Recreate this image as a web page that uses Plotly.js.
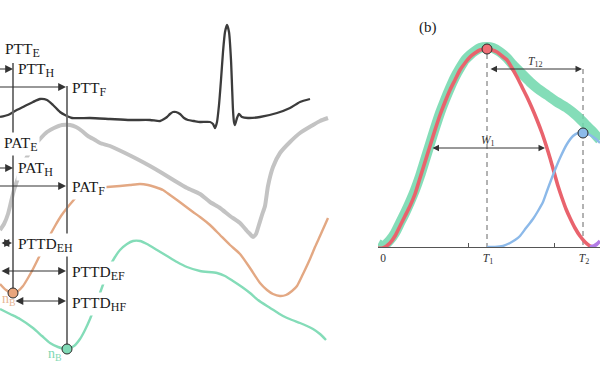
<!DOCTYPE html>
<html>
<head>
<meta charset="utf-8">
<script src="https://cdn.plot.ly/plotly-3.0.1.min.js"></script>
<style>html,body{margin:0;padding:0;background:#fff;}#chart{width:600px;height:372px;}</style>
</head>
<body>
<div id="chart"></div>
<script>
// ---------- Panel (a): waveforms (x, y in figure units) ----------
const ecgX = [0,8,15,23,33,40,47,53,60,65,72,90,110,130,150,160,164,167,170,173,176,180,184,188,194,200,210,213,215,217,219,221,223,225,227,229,231,232,233,234,235,237,239,242,248,260,277,290,300,310];
const ecgY = [117,115,111,107,102,99,100,105,112,115,118,118,119,120,120,121,119,117,114,112,112,114,118,120,121,122,122,124,128,122,105,80,52,32,25,32,60,85,110,122,125,118,114,117,118,117,113,108,102,99];

const grayX = [0,4,8,11,14,18,23,28,34,40,47,54,62,70,76,82,88,95,100,110,123,137,150,162,175,187,200,210,220,230,240,247,250,253,256,258,262,265,268,273,280,290,300,313,320,328];
const grayY = [230,224,214,202,190,178,165,155,146,139,132,128,125,125,127,131,136,140,143,146,152,159,166,173,181,188,194,202,208,216,223,231,234,237,234,228,215,206,186,167,153,142,133,125,121,118];

const orangeX = [0,6,13,18,23,28,33,38,43,49,55,61,67,72,78,85,95,107,120,130,140,148,155,163,170,177,185,193,200,210,220,230,240,250,260,267,273,280,286,292,297,303,310,315,320,324,328];
const orangeY = [284,290,293,291,286,278,269,259,249,237,226,216,208,202,195,191,188,187,186,185,184,185,187,190,195,200,206,212,217,225,235,245,254,268,283,290,294,296,295,291,286,274,259,247,236,227,218];

const greenX = [0,10,20,33,42,50,58,67,74,80,85,90,95,100,105,110,115,120,127,133,140,147,157,167,177,187,200,217,225,233,242,250,258,267,275,283,292,300,307,313,320,326];
const greenY = [309,314,319,328,336,343,347,349,346,339,330,319,306,293,279,266,257,250,244,241,241,244,250,256,262,267,271,273,276,281,287,293,300,306,311,316,320,323,326,329,334,340];

// marker points (n_B etc.)
const dotX = [-1, 13, 67];
const dotY = [230, 293, 349];
const dotFill = ['#ececec', '#e9a57c', '#7fd9b5'];

// vertical reference lines in (a)
const vX = [13, 67];
const vTop = [63, 86];
const vBot = [293, 349];

// arrows in (a)
const arrY  = [69, 87, 168, 186, 243, 271, 301];
const arrX0 = [-20, -20, -20, -20, 0, 0, 14];
const arrX1 = [13, 66, 13, 66, 12, 66, 66];
const arrSide = ['end','end','end','end','end+start','end+start','end+start'];

// labels in (a)
const labMain = ['PTT','PTT','PTT','PAT','PAT','PAT','PTTD','PTTD','PTTD'];
const labSub  = ['E','H','F','E','H','F','EH','EF','HF'];
const labX = [3, 16, 70, 2, 16, 70, 16, 70, 70];
const labY = [48, 68, 87, 142, 167, 186, 243, 271, 302];

// ---------- Panel (b): decomposition ----------
const bandX = [378,383,390,395,400,405,410,415,420,425,430,435,440,445,450,455,460,465,470,475,480,487,493,500,507,513,520,530,537,547,557,567,577,585,592,600];
const bandY = [244,246,240,233,223,213,202,190,176,160,144,128,113,100,88,77,68,60,55,51,48,47,48,52,58,65,72,82,88,95,102,108,116,124,131,140];

const redX = [378,383,390,395,400,405,410,415,420,425,430,435,440,445,450,455,460,465,470,475,480,487,492,497,502,507,512,517,522,527,532,537,542,546,550,554,558,562,566,570,575,580,585,590,593];
const redY = [248,248,243,236,226,216,206,194,178,162,146,130,115,102,90,80,70,63,57,53,50,49,50,52,56,60,68,77,87,97,108,120,133,145,158,172,186,198,209,218,228,236,242,246,247];

const blueX = [487,495,503,510,515,520,526,533,538,543,547,553,560,567,573,578,583,590,596,600];
const blueY = [247,247,246,243,240,236,228,219,211,202,191,175,158,144,136,133,133,135,139,143];

const purpleX = [590,594,597,600];
const purpleY = [247,246,244,241];

const peakX = [487, 583];
const peakY = [49, 133];
const peakFill = ['#ee6e75', '#8dbbea'];

const dashX = [487, 583];
const dashTop = [54, 69];

const tickVals = [383, 488, 584];
const tickText = ['0', '<i>T</i><sub>1</sub>', '<i>T</i><sub>2</sub>'];
const minorVals = [468, 554];

const bArrY = [69, 148];
const bArrX0 = [489, 431];
const bArrX1 = [582, 545];
const bLabText = ['<i>T</i><sub>12</sub>', '<i>W</i><sub>1</sub>'];
const bLabX = [535, 488];
const bLabY = [62, 141];

// ---------- build ----------
const serif = 'Liberation Serif, DejaVu Serif, serif';
const traces = [];
function line(x, y, color, width, ax, extra) {
  traces.push(Object.assign({type:'scatter', mode:'lines', x:x, y:y, xaxis: ax==='b'?'x2':'x', yaxis: ax==='b'?'y2':'y',
    line:{color:color, width:width, shape:'spline', smoothing:0.6}, hoverinfo:'skip'}, extra||{}));
}
line(greenX, greenY, '#84dcb8', 2.4, 'a');
line(orangeX, orangeY, '#e3a883', 2.4, 'a');
line(grayX, grayY, '#c3c3c3', 4, 'a');
line(ecgX, ecgY, '#3c3c3c', 2.3, 'a');
for (let i = 0; i < vX.length; i++) {
  traces.push({type:'scatter', mode:'lines', x:[vX[i], vX[i]], y:[vTop[i], vBot[i]], line:{color:'#6a6a6a', width:1.8}, hoverinfo:'skip'});
}
traces.push({type:'scatter', mode:'markers', x:dotX, y:dotY, cliponaxis:false,
  marker:{size:10, color:dotFill, line:{color:'#2a2a2a', width:1}}, hoverinfo:'skip'});

// panel b
for (let i = 0; i < dashX.length; i++) {
  traces.push({type:'scatter', mode:'lines', x:[dashX[i], dashX[i]], y:[dashTop[i], 247], xaxis:'x2', yaxis:'y2',
    line:{color:'#666', width:1, dash:'5px,4px'}, hoverinfo:'skip'});
}
line(bandX, bandY, 'rgba(110,215,172,0.85)', 10, 'b');
line(redX, redY, '#e9636d', 3.6, 'b');
line(blueX, blueY, '#8cb9e9', 2.4, 'b');
line(purpleX, purpleY, '#b27be6', 3.6, 'b');
traces.push({type:'scatter', mode:'markers', x:peakX, y:peakY, xaxis:'x2', yaxis:'y2', cliponaxis:false,
  marker:{size:10, color:peakFill, line:{color:'#2a2a2a', width:1}}, hoverinfo:'skip'});

const ann = [];
for (let i = 0; i < arrY.length; i++) {
  ann.push({x:arrX1[i], y:arrY[i], ax:arrX0[i], ay:arrY[i], xref:'x', yref:'y', axref:'x', ayref:'y',
    text:'', showarrow:true, arrowhead:2, startarrowhead:2, arrowside:arrSide[i], arrowsize:1.3, startarrowsize:1.3,
    arrowwidth:1.2, arrowcolor:'#333'});
}
for (let i = 0; i < labMain.length; i++) {
  ann.push({x:labX[i], y:labY[i] + 2, xref:'x', yref:'y',
    text:labMain[i] + '<sub><span style="font-size:12px">' + labSub[i] + '</span></sub>',
    showarrow:false, xanchor:'left', yanchor:'middle',
    bgcolor:'#ffffff', borderpad:1, font:{family:serif, size:15.5, color:'#1a1a1a'}});
}
ann.push({x:0, y:299, xref:'x', yref:'y', text:'n<sub>B</sub>', showarrow:false, xanchor:'left', yanchor:'middle',
  font:{family:serif, size:14, color:'#e6b595'}});
ann.push({x:55, y:354, xref:'x', yref:'y', text:'n<sub>B</sub>', showarrow:false, xanchor:'center', yanchor:'middle',
  font:{family:serif, size:14, color:'#7fd8b4'}});
ann.push({x:428, y:27, xref:'x', yref:'y', text:'(b)', showarrow:false, xanchor:'center', yanchor:'middle',
  font:{family:serif, size:15, color:'#1a1a1a'}});
for (let i = 0; i < bArrY.length; i++) {
  ann.push({x:bArrX1[i], y:bArrY[i], ax:bArrX0[i], ay:bArrY[i], xref:'x2', yref:'y2', axref:'x2', ayref:'y2',
    text:'', showarrow:true, arrowhead:2, startarrowhead:2, arrowside:'end+start', arrowsize:1.3, startarrowsize:1.3,
    arrowwidth:1, arrowcolor:'#333'});
  ann.push({x:bLabX[i], y:bLabY[i], xref:'x2', yref:'y2', text:bLabText[i], showarrow:false, xanchor:'center', yanchor:'middle',
    font:{family:serif, size:11.5, color:'#333'}});
}

const layout = {
  width:600, height:372, margin:{l:0, r:0, t:0, b:0}, paper_bgcolor:'#fff', plot_bgcolor:'rgba(0,0,0,0)', showlegend:false,
  xaxis:{domain:[0,1], range:[0,600], visible:false, fixedrange:true},
  yaxis:{domain:[0,1], range:[372,0], visible:false, fixedrange:true},
  xaxis2:{domain:[378/600, 1], range:[378,600], anchor:'y2', showline:true, linecolor:'#555', linewidth:1,
    showgrid:false, zeroline:false, ticks:'', tickmode:'array', tickvals:tickVals, ticktext:tickText,
    tickfont:{family:serif, size:11.5, color:'#333'}, fixedrange:true,
    minor:{tickmode:'array', tickvals:minorVals, ticks:'inside', ticklen:4, tickcolor:'#555', tickwidth:1, showgrid:false}},
  yaxis2:{domain:[1-247/372, 1], range:[247,0], anchor:'x2', visible:false, fixedrange:true},
  annotations: ann
};
Plotly.newPlot('chart', traces, layout, {staticPlot:true, displayModeBar:false});
</script>
</body>
</html>
